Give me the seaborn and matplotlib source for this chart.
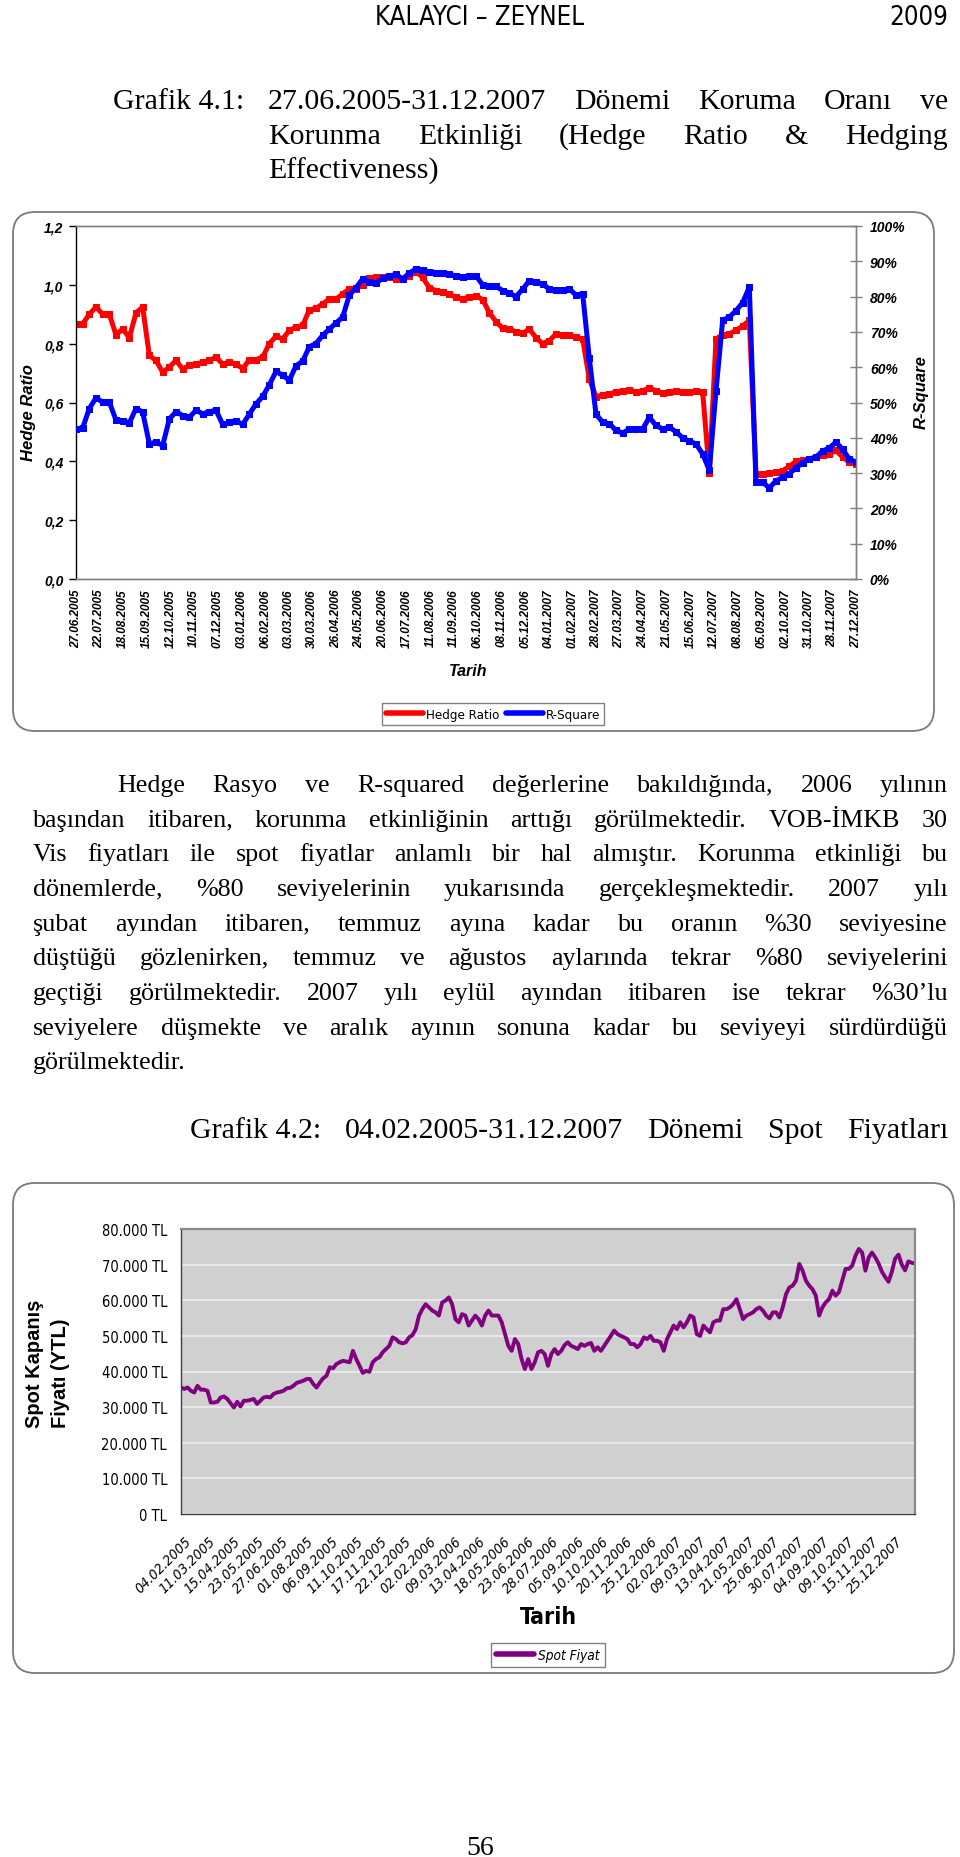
import numpy as np
import matplotlib
matplotlib.use("Agg")
import matplotlib.pyplot as plt
import seaborn as sns
from matplotlib import font_manager as fm
from matplotlib.patches import FancyBboxPatch
from matplotlib.lines import Line2D
from matplotlib.transforms import IdentityTransform

# ---------------- data ----------------
hr_dates = ["27.06.2005", "22.07.2005", "18.08.2005", "15.09.2005", "12.10.2005",
            "10.11.2005", "07.12.2005", "03.01.2006", "06.02.2006", "03.03.2006",
            "30.03.2006", "26.04.2006", "24.05.2006", "20.06.2006", "17.07.2006",
            "11.08.2006", "11.09.2006", "06.10.2006", "08.11.2006", "05.12.2006",
            "04.01.2007", "01.02.2007", "28.02.2007", "27.03.2007", "24.04.2007",
            "21.05.2007", "15.06.2007", "12.07.2007", "08.08.2007", "05.09.2007",
            "02.10.2007", "31.10.2007", "28.11.2007", "27.12.2007"]

hedge_ratio = [
    0.867, 0.867, 0.90, 0.925, 0.90, 0.90, 0.83, 0.85, 0.82, 0.905,
    0.924, 0.76, 0.743, 0.703, 0.72, 0.743, 0.714, 0.726, 0.731, 0.737,
    0.743, 0.754, 0.731, 0.737, 0.731, 0.715, 0.745, 0.746, 0.754, 0.80,
    0.825, 0.816, 0.845, 0.856, 0.862, 0.915, 0.92, 0.935, 0.952, 0.951,
    0.97, 0.985, 0.986, 1.00, 1.022, 1.026, 1.026, 1.026, 1.02, 1.02,
    1.03, 1.045, 1.025, 0.99, 0.98, 0.975, 0.968, 0.958, 0.952, 0.958,
    0.962, 0.95, 0.905, 0.875, 0.852, 0.85, 0.84, 0.835, 0.85, 0.82,
    0.80, 0.81, 0.833, 0.829, 0.829, 0.822, 0.816, 0.68,
    0.62, 0.625, 0.63, 0.635, 0.638, 0.643, 0.636, 0.64, 0.649, 0.64,
    0.632, 0.635, 0.638, 0.636, 0.635, 0.638, 0.635, 0.36, 0.816, 0.83,
    0.833, 0.845, 0.86, 0.879, 0.357, 0.357, 0.36, 0.363, 0.368, 0.383,
    0.40, 0.405, 0.408, 0.414, 0.42, 0.425, 0.437, 0.414, 0.397, 0.391]

r_square = [
    42.5, 42.8, 48.3, 51.3, 50.1, 50.1, 45.0, 44.9, 44.2, 48.3,
    47.3, 38.3, 38.8, 37.8, 45.3, 47.4, 46.3, 45.8, 47.8, 46.8,
    47.4, 47.8, 43.8, 44.4, 44.8, 43.8, 46.7, 49.6, 51.7, 55.0,
    58.8, 57.7, 56.3, 60.4, 61.7, 65.8, 66.7, 69.0, 70.8, 72.5,
    74.2, 80.4, 82.5, 85.0, 84.2, 83.8, 85.2, 85.8, 86.3, 85.0,
    86.7, 87.8, 87.4, 87.1, 86.8, 86.7, 86.4, 85.8, 85.5, 85.7,
    85.9, 83.3, 82.9, 82.9, 81.7, 81.0, 80.0, 82.1, 84.5, 84.1,
    83.6, 82.1, 81.8, 81.8, 82.2, 80.4, 80.8, 62.5,
    46.7, 44.4, 44.0, 42.1, 41.3, 42.5, 42.5, 42.5, 45.8, 43.5,
    42.5, 43.0, 41.7, 40.0, 39.0, 38.3, 35.4, 30.8, 53.3, 73.3,
    74.2, 76.0, 78.3, 82.7, 27.4, 27.4, 25.8, 27.8, 28.8, 29.8,
    31.5, 32.9, 34.0, 34.5, 36.3, 37.1, 38.8, 36.7, 34.0, 33.1]

spot_dates = ["04.02.2005", "11.03.2005", "15.04.2005", "23.05.2005", "27.06.2005",
              "01.08.2005", "06.09.2005", "11.10.2005", "17.11.2005", "22.12.2005",
              "02.02.2006", "09.03.2006", "13.04.2006", "18.05.2006", "23.06.2006",
              "28.07.2006", "05.09.2006", "10.10.2006", "20.11.2006", "25.12.2006",
              "02.02.2007", "09.03.2007", "13.04.2007", "21.05.2007", "25.06.2007",
              "30.07.2007", "04.09.2007", "09.10.2007", "15.11.2007", "25.12.2007"]

# spot closing price, thousand TL
spot_price = [
    35.5, 35.1, 35.5, 34.6, 34.1, 36.0, 34.9, 34.9, 34.6, 31.3,
    31.3, 31.5, 32.7, 33.0, 32.3, 31.1, 29.9, 31.5, 30.2, 31.8,
    31.8, 32.0, 32.3, 30.9, 31.8, 32.7, 32.9, 32.7, 33.7, 34.1,
    34.3, 34.6, 35.3, 35.4, 36.0, 36.8, 37.1, 37.4, 37.9, 37.9,
    36.5, 35.5, 36.9, 38.1, 38.8, 41.2, 40.9, 42.1, 42.6, 43.0,
    42.8, 42.6, 45.8, 43.5, 41.6, 39.6, 40.2, 39.9, 42.6, 43.5,
    44.0, 45.4, 46.3, 47.2, 49.6, 49.1, 48.2, 47.9,
    48.2, 49.6, 50.2, 51.9, 55.7, 57.5, 58.9, 58.0, 57.1, 56.6,
    55.7, 59.4, 59.9, 60.8, 58.9, 54.7, 53.8, 56.1, 55.7, 52.9,
    54.3, 55.7, 54.7, 52.9, 55.7, 57.1, 55.7, 55.7, 55.7, 53.8,
    50.5, 47.2, 45.8, 49.1, 47.7, 43.5, 40.7, 43.5, 40.7, 42.6,
    45.4, 45.8, 44.9, 41.6, 44.9, 46.3, 44.9, 45.8, 47.4, 48.2,
    47.2, 46.8, 46.3, 47.7, 47.2, 47.7, 48.0, 45.8, 46.8, 45.8,
    47.2, 48.6, 50.0, 51.5, 50.5, 50.0, 49.6, 49.1, 47.7,
    47.7, 46.8, 47.7, 49.6, 49.1, 50.0, 48.6, 48.6, 48.2, 45.8,
    49.1, 51.0, 52.9, 51.9, 53.8, 52.4, 53.8, 55.7, 55.2, 50.5,
    50.0, 52.9, 51.9, 51.0, 53.8, 54.3, 54.3, 57.5, 57.5, 58.0,
    58.9, 60.3, 57.5, 54.7, 55.7, 56.1, 56.6, 57.5, 58.0, 57.1,
    55.7, 54.9, 56.6, 56.6, 55.2, 58.0, 61.7, 63.6, 64.1, 65.5,
    70.2, 68.3, 65.5, 64.1, 63.1, 61.3,
    55.7, 58.0, 59.4, 60.3, 62.7, 61.3, 62.3, 65.5, 68.8, 68.8,
    69.7, 72.5, 74.4, 73.4, 68.3, 72.0, 73.4,
    72.0, 70.3, 68.0, 66.5, 65.2, 68.0, 71.7, 72.8, 70.0, 68.4,
    70.9, 70.5, 70.3]

header_left = "KALAYCI – ZEYNEL"
header_right = "2009"
cap1_label = "Grafik 4.1:"
cap1_lines = ["27.06.2005-31.12.2007 Dönemi Koruma Oranı ve",
              "Korunma Etkinliği (Hedge Ratio & Hedging",
              "Effectiveness)"]
body_lines = [
    "Hedge Rasyo ve R-squared değerlerine bakıldığında, 2006 yılının",
    "başından itibaren, korunma etkinliğinin arttığı görülmektedir. VOB-İMKB 30",
    "Vis fiyatları ile spot fiyatlar anlamlı bir hal almıştır. Korunma etkinliği bu",
    "dönemlerde, %80 seviyelerinin yukarısında gerçekleşmektedir. 2007 yılı",
    "şubat ayından itibaren, temmuz ayına kadar bu oranın %30 seviyesine",
    "düştüğü gözlenirken, temmuz ve ağustos aylarında tekrar %80 seviyelerini",
    "geçtiği görülmektedir. 2007 yılı eylül ayından itibaren ise tekrar %30’lu",
    "seviyelere düşmekte ve aralık ayının sonuna kadar bu seviyeyi sürdürdüğü",
    "görülmektedir."]
cap2_words = ["Grafik 4.2:", "04.02.2005-31.12.2007", "Dönemi", "Spot", "Fiyatları"]
page_no = "56"

# ---------------- style ----------------
sns.set_style("white")
plt.rcParams["font.family"] = ["Liberation Sans", "DejaVu Sans"]
for k in ("text.color", "axes.labelcolor", "xtick.color", "ytick.color"):
    plt.rcParams[k] = "black"


def find_narrow(style):
    """Look for a condensed sans font file (regular / italic / bold)."""
    cands = []
    for f in fm.fontManager.ttflist:
        fn = f.fname.lower()
        if ("narrow" in fn or "condensed" in fn) and "sans" in fn and "mono" not in fn and "serif" not in fn.replace("sans", ""):
            cands.append(f.fname)
    want = []
    for c in cands:
        low = c.lower().split("/")[-1]
        is_b = "bold" in low
        is_i = ("italic" in low) or ("oblique" in low)
        if style == "regular" and not is_b and not is_i:
            want.append(c)
        if style == "italic" and is_i and not is_b:
            want.append(c)
        if style == "bold" and is_b and not is_i:
            want.append(c)
    want.sort(key=lambda p: (0 if "liberation" in p.lower() else 1, len(p)))
    return want[0] if want else None


NFILE = {s: find_narrow(s) for s in ("regular", "italic", "bold")}


def nprop(size, style="regular"):
    if NFILE.get(style):
        return fm.FontProperties(fname=NFILE[style], size=size)
    kw = {"family": ["Liberation Sans", "DejaVu Sans"], "size": size * 0.9}
    if style == "italic":
        kw["style"] = "italic"
    if style == "bold":
        kw["weight"] = "bold"
    return fm.FontProperties(**kw)


SERIF = ["Liberation Serif", "DejaVu Serif"]

W, H = 960, 1858
fig = plt.figure(figsize=(W / 100, H / 100), dpi=100)
renderer = fig.canvas.get_renderer()


def fx(x):
    return x / W


def fy(y):
    return 1 - y / H


def put(x, y, s, **kw):
    return fig.text(fx(x), fy(y), s, **kw)


def line_words(words, x0, x1, yb, size, justify=True):
    ts = [put(0, yb, w, fontsize=size, family=SERIF, ha="left", va="baseline") for w in words]
    ws = [t.get_window_extent(renderer).width for t in ts]
    if justify and len(ts) > 1:
        gap = (x1 - x0 - sum(ws)) / (len(ts) - 1)
    else:
        gap = size * 100 / 72 * 0.25
    x = x0
    for t, w in zip(ts, ws):
        t.set_x(fx(x))
        x += w + gap


# ---------------- page text ----------------
put(480, 25, header_left, fontproperties=nprop(18.5), ha="center", va="baseline")
put(948, 25, header_right, fontproperties=nprop(18.5), ha="right", va="baseline")

CAP = 21.5
put(113, 109, cap1_label, fontsize=CAP, family=SERIF, ha="left", va="baseline")
line_words(cap1_lines[0].split(), 268, 948, 109, CAP)
line_words(cap1_lines[1].split(), 268, 948, 144, CAP)
line_words(cap1_lines[2].split(), 268, 948, 179, CAP, justify=False)

BODY = 18.7
for i, ln in enumerate(body_lines):
    x0 = 117 if i == 0 else 33
    line_words(ln.split(), x0, 948, 792 + 34.65 * i, BODY, justify=(i < len(body_lines) - 1))

line_words(cap2_words, 190, 948, 1138, CAP)
put(480, 1855, page_no, fontsize=20, family=SERIF, ha="center", va="baseline")

# ---------------- chart 1 ----------------
fig.add_artist(FancyBboxPatch((13, H - 732), 921, 519, boxstyle="round,pad=0,rounding_size=22",
                              transform=IdentityTransform(), fc="none", ec="#7a7a7a", lw=1.3))

ax1 = fig.add_axes([fx(76), fy(580), 780 / W, 353 / H])
idx1 = np.arange(len(hedge_ratio))
sns.lineplot(x=idx1, y=hedge_ratio, ax=ax1, color="#ff0000", linewidth=3.6, marker="s",
             markersize=3.8, markeredgecolor="#ff0000", estimator=None, legend=False)
ax1.set_xlim(0, len(idx1) - 1)
ax1.set_ylim(0, 1.2)
ax2 = ax1.twinx()
sns.lineplot(x=idx1, y=r_square, ax=ax2, color="#0000ff", linewidth=3.6, marker="s",
             markersize=3.8, markeredgecolor="#0000ff", estimator=None, legend=False)
ax2.set_ylim(0, 100)
ax1.set_xlabel("")
ax1.set_ylabel("")
ax2.set_ylabel("")
ax1.set_facecolor("white")

yt = np.round(np.arange(0, 1.21, 0.2), 1)
ax1.set_yticks(yt)
ax1.set_yticklabels([f"{v:.1f}".replace(".", ",") for v in yt], fontsize=10,
                    fontweight="bold", fontstyle="italic")
ax1.tick_params(axis="y", direction="out", length=5, width=1, color="black", pad=4)
rt = np.arange(0, 101, 10)
ax2.set_yticks(rt)
ax2.set_yticklabels([f"{v}%" for v in rt], fontsize=10, fontweight="bold", fontstyle="italic")
ax2.tick_params(axis="y", direction="inout", length=8, width=1, color="#808080", pad=6)

xt = np.linspace(0, len(idx1) - 1, len(hr_dates))
ax1.set_xticks(xt)
ax1.set_xticklabels(hr_dates, rotation=90, fontsize=8.5, fontweight="bold", fontstyle="italic")
ax1.set_xticks(np.arange(0, len(idx1) - 0.99, 0.5), minor=True)
ax1.tick_params(axis="x", which="both", direction="out", length=5, width=0.8,
                color="#909090", pad=2)

for ax in (ax1, ax2):
    for s in ax.spines.values():
        s.set_color("#808080")
        s.set_linewidth(1)
ax1.spines["left"].set_color("black")
ax2.spines["left"].set_visible(False)

put(28, 413, "Hedge Ratio", fontsize=12, fontweight="bold", fontstyle="italic",
    rotation=90, ha="center", va="center")
put(921, 392, "R-Square", fontsize=12, fontweight="bold", fontstyle="italic",
    rotation=90, ha="center", va="center")
put(468, 672, "Tarih", fontsize=11.5, fontweight="bold", fontstyle="italic",
    ha="center", va="center")

leg1 = fig.legend(handles=[Line2D([], [], color="#ff0000", lw=4), Line2D([], [], color="#0000ff", lw=4)],
                  labels=["Hedge Ratio", "R-Square"], loc="center",
                  bbox_to_anchor=(fx(493), fy(715)), ncol=2, frameon=True, fancybox=False,
                  edgecolor="#808080", framealpha=1, prop=nprop(9.5),
                  handlelength=2.8, handletextpad=0.2, columnspacing=0.5, borderpad=0.35,
                  borderaxespad=0)
leg1.get_frame().set_linewidth(1)

# ---------------- chart 2 ----------------
fig.add_artist(FancyBboxPatch((13, H - 1674), 941, 490, boxstyle="round,pad=0,rounding_size=22",
                              transform=IdentityTransform(), fc="none", ec="#7a7a7a", lw=1.3))

ax3 = fig.add_axes([fx(181), fy(1515), 734 / W, 285 / H])
ax3.set_facecolor("#d0d0d0")
idx2 = np.arange(len(spot_price))
spot_tl = np.array(spot_price) * 1000
ax3.set_axisbelow(True)
ax3.yaxis.grid(True, color="#ececec", lw=1.2)
ax3.xaxis.grid(False)
sns.lineplot(x=idx2, y=spot_tl, ax=ax3, color="#800080", linewidth=2.8, estimator=None, legend=False)
ax3.set_xlim(0, len(idx2) - 1)
ax3.set_ylim(0, 80000)
ax3.set_xlabel("")
ax3.set_ylabel("")
yt3 = np.arange(0, 80001, 10000)
ax3.set_yticks(yt3)
ax3.set_yticklabels([("0 TL" if v == 0 else f"{v:,}".replace(",", ".") + " TL") for v in yt3],
                    fontproperties=nprop(10.5))
ax3.tick_params(axis="y", direction="out", length=5, width=1, color="#404040", pad=5)
xt3 = np.linspace(0.004, 0.974, len(spot_dates)) * (len(idx2) - 1)
ax3.set_xticks(xt3)
ax3.set_xticklabels(spot_dates, rotation=45, ha="right", rotation_mode="anchor",
                    fontproperties=nprop(10.2, "italic"))
ax3.set_xticks(np.arange(0, len(idx2)), minor=True)
ax3.tick_params(axis="x", which="both", direction="out", length=5, width=0.8,
                color="#808080", pad=9)
for side in ("top", "right"):
    ax3.spines[side].set_color("#8a8a8a")
    ax3.spines[side].set_linewidth(1.6)
for side in ("left", "bottom"):
    ax3.spines[side].set_color("#404040")
    ax3.spines[side].set_linewidth(1.0)

put(34, 1428, "Spot Kapanış", fontsize=14.5, fontweight="bold", rotation=90, ha="center", va="bottom")
put(61, 1428, "Fiyatı (YTL)", fontsize=14.5, fontweight="bold", rotation=90, ha="center", va="bottom")
put(548, 1618, "Tarih", fontproperties=nprop(16.5, "bold"), ha="center", va="center")

leg2 = fig.legend(handles=[Line2D([], [], color="#800080", lw=4)], labels=["Spot Fiyat"],
                  loc="center", bbox_to_anchor=(fx(548), fy(1656)), frameon=True, fancybox=False,
                  edgecolor="#808080", framealpha=1, prop=nprop(9.8, "italic"),
                  handlelength=2.8, handletextpad=0.3, borderpad=0.4, borderaxespad=0)
leg2.get_frame().set_linewidth(1)

fig.savefig("out.png", dpi=100)
